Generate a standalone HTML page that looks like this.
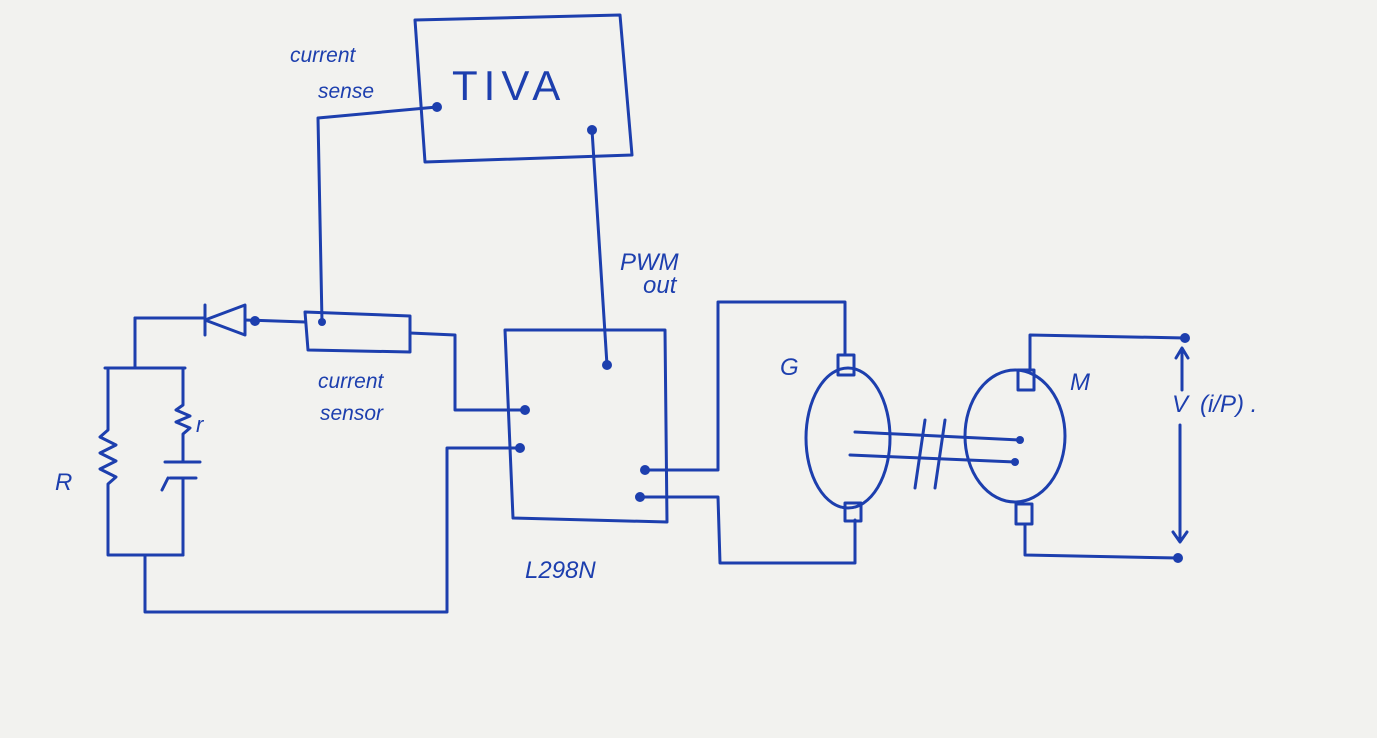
<!DOCTYPE html>
<html><head><meta charset="utf-8"><style>
html,body{margin:0;padding:0;background:#f2f2ef;}
svg{display:block}
text{font-family:"Liberation Sans",sans-serif;fill:#1d3fae;font-style:italic}
</style></head><body>
<svg width="1377" height="738" viewBox="0 0 1377 738" xmlns="http://www.w3.org/2000/svg">
<rect width="1377" height="738" fill="#f2f2ef"/>
<g stroke="#1d3fae" stroke-width="3" fill="none" stroke-linecap="round" stroke-linejoin="round">
<!-- TIVA -->
<path d="M415 20 L620 15 L632 155 L425 162 Z"/>
<!-- current sense wire -->
<path d="M437 107 L318 118 L322 322"/>
<!-- PWM wire -->
<path d="M592 130 L607 365"/>
<!-- L298N box -->
<path d="M505 330 L665 330 L667 522 L513 518 Z"/>
<!-- current sensor -->
<path d="M305 312 L410 316 L410 352 L308 350 Z"/>
<!-- diode line -->
<path d="M135 318 L205 318 M245 320 L305 322"/>
<path d="M205 305 L205 335 M205 320 L245 305 L245 335 Z"/>
<!-- RC network -->
<path d="M135 318 L135 368 M105 368 L185 368"/>
<path d="M108 368 L108 430 L100 437 L116 445 L100 453 L116 461 L100 469 L116 477 L108 484 L108 555 L183 555"/>
<path d="M183 368 L183 405 L176 410 L190 416 L176 422 L190 428 L183 434 L183 462"/>
<path d="M165 462 L200 462 M170 478 L196 478 M168 478 L162 490 M183 478 L183 555"/>
<path d="M145 555 L145 612 L447 612 L447 448 L520 448"/>
<path d="M410 333 L455 335 L455 410 L525 410"/>
<!-- L298N to G -->
<path d="M645 470 L718 470 L718 302 L845 302 L845 355"/>
<path d="M640 497 L718 497 L720 563 L855 563 L855 520"/>
<!-- G -->
<ellipse cx="848" cy="438" rx="42" ry="70"/>
<rect x="838" y="355" width="16" height="20"/>
<rect x="845" y="503" width="16" height="18"/>
<!-- M -->
<ellipse cx="1015" cy="436" rx="50" ry="66"/>
<rect x="1018" y="370" width="16" height="20"/>
<rect x="1016" y="504" width="16" height="20"/>
<!-- shaft -->
<path d="M855 432 L1020 440 M850 455 L1015 462"/>
<path d="M925 420 L915 488 M945 420 L935 488"/>
<!-- right supply -->
<path d="M1030 370 L1030 335 L1185 338"/>
<path d="M1025 524 L1025 555 L1178 558"/>
<path d="M1182 350 L1182 390 M1176 358 L1182 348 L1188 358 M1180 425 L1180 540 M1173 532 L1180 542 L1187 532"/>
</g>
<g fill="#1d3fae">
<circle cx="437" cy="107" r="5"/><circle cx="592" cy="130" r="5"/>
<circle cx="607" cy="365" r="5"/><circle cx="525" cy="410" r="5"/>
<circle cx="520" cy="448" r="5"/><circle cx="645" cy="470" r="5"/>
<circle cx="640" cy="497" r="5"/><circle cx="255" cy="321" r="5"/>
<circle cx="322" cy="322" r="4"/><circle cx="1185" cy="338" r="5"/>
<circle cx="1178" cy="558" r="5"/><circle cx="1020" cy="440" r="4"/><circle cx="1015" cy="462" r="4"/>
</g>
<text x="452" y="100" font-size="42" style="font-style:normal" letter-spacing="6">TIVA</text>
<text x="290" y="62" font-size="21">current</text>
<text x="318" y="98" font-size="21">sense</text>
<text x="620" y="270" font-size="24">PWM</text>
<text x="643" y="293" font-size="24">out</text>
<text x="318" y="388" font-size="21">current</text>
<text x="320" y="420" font-size="21">sensor</text>
<text x="525" y="578" font-size="24">L298N</text>
<text x="780" y="375" font-size="24">G</text>
<text x="1070" y="390" font-size="24">M</text>
<text x="1172" y="412" font-size="24">V</text>
<text x="1200" y="412" font-size="24">(i/P) .</text>
<text x="55" y="490" font-size="24">R</text>
<text x="196" y="432" font-size="22">r</text>
</g>
</svg>
</body></html>
